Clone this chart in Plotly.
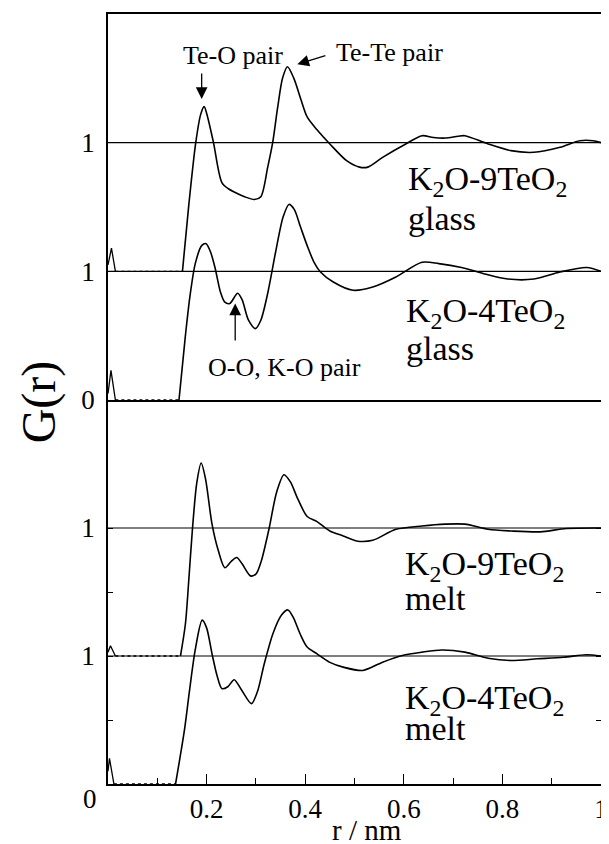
import plotly.graph_objects as go

# ---------------- data (r in nm, G(r)) ----------------
glass9_spike_r = [0.0, 0.007, 0.015]
glass9_spike_g = [0.05, 0.18, 0.0]
glass9_r = [0.151, 0.164, 0.178, 0.188, 0.195, 0.202, 0.214, 0.231, 0.245, 0.257, 0.277,
            0.297, 0.310, 0.324, 0.334, 0.344, 0.354, 0.364, 0.377, 0.391, 0.404, 0.424,
            0.450, 0.484, 0.510, 0.527, 0.557, 0.604, 0.637, 0.660, 0.684, 0.710, 0.724,
            0.771, 0.817, 0.864, 0.917, 0.957, 0.984, 1.0]
glass9_g = [0.0, 0.52, 1.0, 1.22, 1.28, 1.2, 1.0, 0.69, 0.64, 0.615, 0.58,
            0.558, 0.58, 0.81, 1.0, 1.27, 1.5, 1.59, 1.5, 1.34, 1.2, 1.1,
            0.99, 0.86, 0.81, 0.81, 0.886, 0.99, 1.054, 1.04, 1.036, 1.05, 1.054,
            0.99, 0.938, 0.925, 0.964, 1.015, 1.015, 1.0]

glass4_spike_r = [0.0, 0.006, 0.015]
glass4_spike_g = [0.05, 0.23, 0.0]
glass4_r = [0.144, 0.157, 0.166, 0.177, 0.190, 0.199, 0.208, 0.217, 0.228, 0.237, 0.247,
            0.263, 0.272, 0.285, 0.299, 0.310, 0.324, 0.340, 0.355, 0.367, 0.378, 0.390,
            0.404, 0.418, 0.431, 0.457, 0.497, 0.537, 0.584, 0.637, 0.671, 0.717, 0.764,
            0.811, 0.864, 0.917, 0.971, 1.0]
glass4_g = [0.0, 0.5, 0.8, 1.06, 1.2, 1.215, 1.15, 1.03, 0.84, 0.76, 0.75,
            0.83, 0.78, 0.62, 0.555, 0.62, 0.83, 1.15, 1.42, 1.52, 1.48, 1.35,
            1.2, 1.07, 0.995, 0.917, 0.853, 0.878, 0.956, 1.07, 1.06, 1.03, 0.98,
            0.94, 0.94, 0.995, 1.03, 1.0]

melt9_spike_r = [0.0, 0.005, 0.015]
melt9_spike_g = [0.03, 0.08, 0.0]
melt9_r = [0.147, 0.157, 0.164, 0.171, 0.180, 0.189, 0.198, 0.211, 0.224, 0.237, 0.250,
           0.261, 0.272, 0.289, 0.300, 0.311, 0.327, 0.342, 0.357, 0.370, 0.384, 0.404,
           0.424, 0.450, 0.477, 0.504, 0.537, 0.584, 0.637, 0.684, 0.724, 0.771, 0.817,
           0.877, 0.930, 1.0]
melt9_g = [0.0, 0.25, 0.6, 0.977, 1.35, 1.508, 1.38, 1.03, 0.82, 0.69, 0.74,
           0.77, 0.72, 0.626, 0.64, 0.743, 1.0, 1.28, 1.416, 1.36, 1.236, 1.09,
           1.05, 0.977, 0.938, 0.899, 0.904, 0.99, 1.016, 1.03, 1.03, 0.99, 0.977,
           0.97, 0.996, 1.0]

melt4_spike_r = [0.0, 0.003, 0.012]
melt4_spike_g = [0.1, 0.2, 0.0]
melt4_r = [0.137, 0.155, 0.165, 0.177, 0.191, 0.200, 0.211, 0.221, 0.231, 0.243, 0.256,
           0.270, 0.291, 0.303, 0.317, 0.335, 0.352, 0.365, 0.376, 0.390, 0.404, 0.424,
           0.450, 0.477, 0.517, 0.557, 0.597, 0.637, 0.677, 0.724, 0.771, 0.817, 0.871,
           0.924, 0.970, 1.0]
melt4_g = [0.0, 0.42, 0.72, 1.05, 1.28, 1.22, 1.017, 0.85, 0.745, 0.76, 0.815,
           0.74, 0.628, 0.72, 0.94, 1.18, 1.32, 1.36, 1.3, 1.17, 1.07, 1.017,
           0.95, 0.913, 0.887, 0.952, 1.004, 1.03, 1.047, 1.03, 0.983, 0.965, 0.978,
           0.99, 1.01, 1.0]

curves = [
    # (name, spike_r, spike_g, r, g, offset, panel)
    ("K2O-9TeO2 glass", glass9_spike_r, glass9_spike_g, glass9_r, glass9_g, 1, 1),
    ("K2O-4TeO2 glass", glass4_spike_r, glass4_spike_g, glass4_r, glass4_g, 0, 1),
    ("K2O-9TeO2 melt", melt9_spike_r, melt9_spike_g, melt9_r, melt9_g, 1, 2),
    ("K2O-4TeO2 melt", melt4_spike_r, melt4_spike_g, melt4_r, melt4_g, 0, 2),
]

x_tickvals = [0.2, 0.4, 0.6, 0.8, 1.0]
x_ticktext = ["0.2", "0.4", "0.6", "0.8", "1"]

FONT = "Liberation Serif, Times New Roman, serif"
LW = 1.6

fig = go.Figure()
for name, sr, sg, r, g, off, panel in curves:
    xa = "x" if panel == 1 else "x2"
    ya = "y" if panel == 1 else "y2"
    fig.add_trace(go.Scatter(x=sr, y=[v + off for v in sg], mode="lines",
                             line=dict(color="black", width=1.3),
                             xaxis=xa, yaxis=ya, showlegend=False, hoverinfo="skip"))
    fig.add_trace(go.Scatter(x=[sr[-1], r[0]], y=[off, off], mode="lines",
                             line=dict(color="black", width=1.3, dash="3px,3px"),
                             xaxis=xa, yaxis=ya, showlegend=False, hoverinfo="skip"))
    fig.add_trace(go.Scatter(x=r, y=[v + off for v in g], mode="lines",
                             line=dict(color="black", width=LW, shape="spline", smoothing=0.8),
                             xaxis=xa, yaxis=ya, showlegend=False, name=name))
    # reference line at G = 1 for each curve
    fig.add_shape(type="line", xref=xa + " domain", yref=ya, x0=0, x1=1,
                  y0=off + 1, y1=off + 1, line=dict(color="black", width=1.1))

split = 384 / 770
axis_common = dict(showgrid=False, zeroline=False, linecolor="black", linewidth=1.5)

# page body has an 8px margin: compensate so the plot area sits where the reference has it
fig.update_layout(
    width=601, height=836,
    margin=dict(l=100, r=1, t=6, b=60),
    plot_bgcolor="white", paper_bgcolor="white",
    font=dict(family=FONT, color="black", size=27),
    xaxis=dict(range=[0, 1], domain=[0, 1], anchor="y", showline=True, mirror=True,
               showticklabels=False, ticks="", **axis_common),
    yaxis=dict(range=[0, 3], domain=[split, 1], anchor="x", showline=True, mirror=True,
               tickvals=[0, 1, 2], ticktext=["0", "1", "1"], ticks="",
               ticklabelstandoff=6, tickfont=dict(family=FONT, size=27), **axis_common),
    xaxis2=dict(range=[0, 1], domain=[0, 1], anchor="y2", showline=True, mirror=False,
                tickvals=x_tickvals, ticktext=x_ticktext, ticks="inside", ticklen=10,
                tickwidth=1.3, tickcolor="black", tickfont=dict(family=FONT, size=27),
                ticklabeloverflow="allow",
                minor=dict(dtick=0.1, tick0=0, ticks="inside", ticklen=6, tickwidth=1.2,
                           tickcolor="black"),
                **axis_common),
    yaxis2=dict(range=[0, 3], domain=[0, split], anchor="x2", showline=True, mirror="ticks",
                tickvals=[0.5, 1, 1.5, 2], ticktext=["", "1", "", "1"], ticks="inside",
                ticklen=5, tickwidth=1.2, tickcolor="black", ticklabelstandoff=6,
                tickfont=dict(family=FONT, size=27), **axis_common),
)

ann_font = dict(family=FONT, size=26, color="black")
lab_font = dict(family=FONT, size=34, color="black")

# sample labels: (formula, state, xref, yref, x, y_formula, y_state)
sample_labels = [
    ("K<sub>2</sub>O-9TeO<sub>2</sub>", "glass", "x", "y", 0.604, 1.70, 1.414),
    ("K<sub>2</sub>O-4TeO<sub>2</sub>", "glass", "x", "y", 0.600, 0.676, 0.404),
    ("K<sub>2</sub>O-9TeO<sub>2</sub>", "melt", "x2", "y2", 0.598, 1.703, 1.453),
    ("K<sub>2</sub>O-4TeO<sub>2</sub>", "melt", "x2", "y2", 0.598, 0.656, 0.4375),
]

annotations = [
    # bottom-left origin label
    dict(text="0", xref="x2", yref="y2", x=0, y=0, xanchor="right", yanchor="top",
         xshift=-9, yshift=2, showarrow=False, font=dict(family=FONT, size=27)),
    # axis titles
    dict(text="r / nm", xref="paper", yref="paper", x=0.525, y=-0.060, xanchor="center",
         yanchor="middle", showarrow=False, font=dict(family=FONT, size=29)),
    dict(text="G(r)", xref="paper", yref="paper", x=-0.14, y=0.497, xanchor="center",
         yanchor="middle", textangle=-90, showarrow=False, font=dict(family=FONT, size=48)),
    # pair labels
    dict(text="Te-O pair", xref="x", yref="y", x=0.254, y=2.68, showarrow=False, font=ann_font),
    dict(text="Te-Te pair", xref="x", yref="y", x=0.57, y=2.70, showarrow=False, font=ann_font),
    dict(text="O-O, K-O pair", xref="x", yref="y", x=0.357, y=0.25, showarrow=False, font=ann_font),
    # arrows
    dict(text="", xref="x", yref="y", x=0.19, y=2.34, axref="x", ayref="y", ax=0.19, ay=2.55,
         showarrow=True, arrowhead=2, arrowsize=1.8, arrowwidth=1.3, arrowcolor="black"),
    dict(text="", xref="x", yref="y", x=0.384, y=2.61, axref="x", ayref="y", ax=0.444, ay=2.68,
         showarrow=True, arrowhead=2, arrowsize=1.8, arrowwidth=1.3, arrowcolor="black"),
    dict(text="", xref="x", yref="y", x=0.258, y=0.75, axref="x", ayref="y", ax=0.258, ay=0.45,
         showarrow=True, arrowhead=2, arrowsize=1.8, arrowwidth=1.3, arrowcolor="black"),
]
for formula, state, xr, yr, x, yf, ys in sample_labels:
    annotations.append(dict(text=formula, xref=xr, yref=yr, x=x, y=yf, xanchor="left",
                            yanchor="middle", showarrow=False, font=lab_font))
    annotations.append(dict(text=state, xref=xr, yref=yr, x=x, y=ys, xanchor="left",
                            yanchor="middle", showarrow=False, font=lab_font))
fig.update_layout(annotations=annotations)

fig.write_html("out.html")
